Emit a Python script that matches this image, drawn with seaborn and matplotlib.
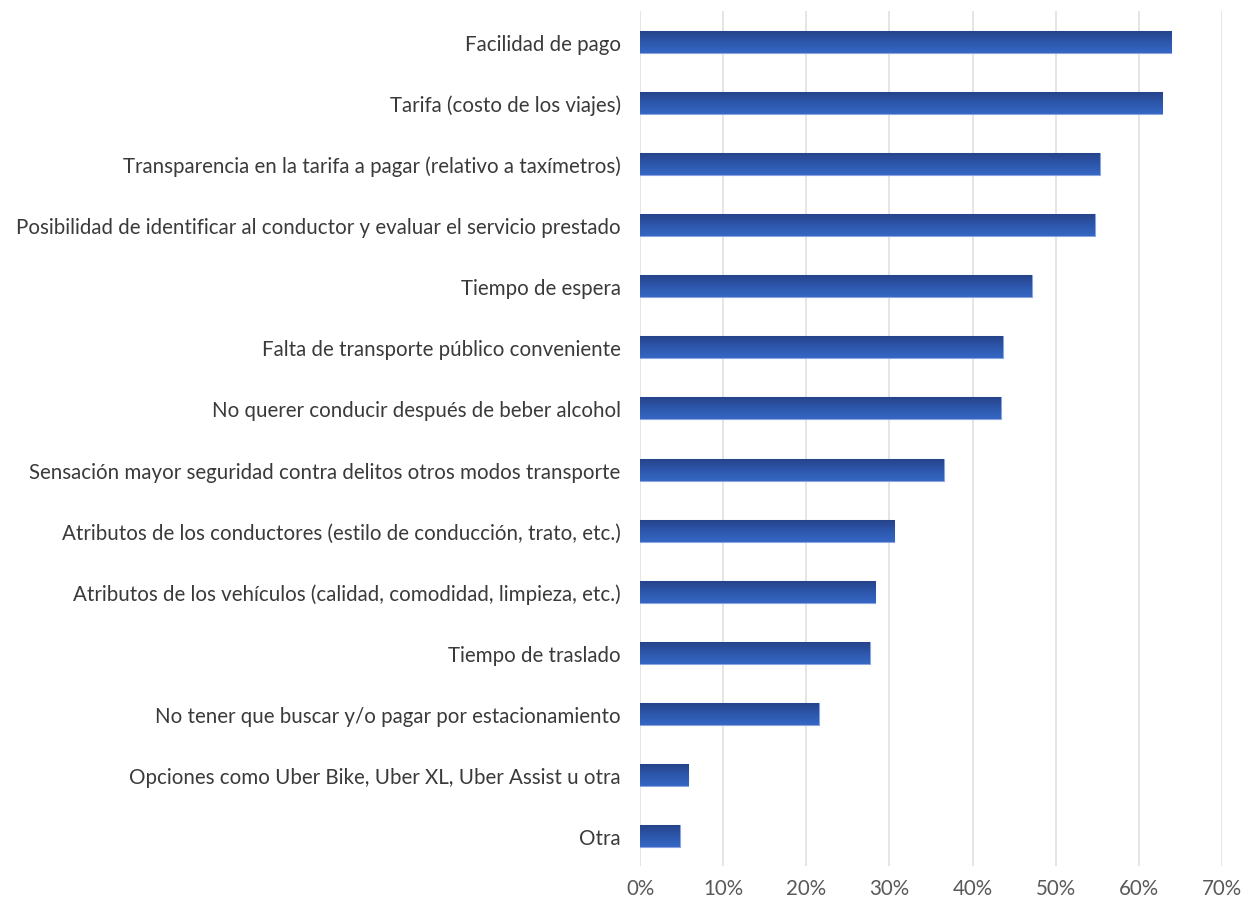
import numpy as np
import pandas as pd
import matplotlib
matplotlib.use("Agg")
import matplotlib.pyplot as plt
import seaborn as sns
from matplotlib.colors import LinearSegmentedColormap

categories = [
    "Facilidad de pago",
    "Tarifa (costo de los viajes)",
    "Transparencia en la tarifa a pagar (relativo a taxímetros)",
    "Posibilidad de identificar al conductor y evaluar el servicio prestado",
    "Tiempo de espera",
    "Falta de transporte público conveniente",
    "No querer conducir después de beber alcohol",
    "Sensación mayor seguridad contra delitos otros modos transporte",
    "Atributos de los conductores (estilo de conducción, trato, etc.)",
    "Atributos de los vehículos (calidad, comodidad, limpieza, etc.)",
    "Tiempo de traslado",
    "No tener que buscar y/o pagar por estacionamiento",
    "Opciones como Uber Bike, Uber XL, Uber Assist u otra",
    "Otra",
]
values = [63.9, 62.8, 55.3, 54.7, 47.1, 43.6, 43.4, 36.5, 30.6, 28.3, 27.6, 21.5, 5.8, 4.8]
tick_values = [0, 10, 20, 30, 40, 50, 60, 70]
tick_labels = ["0%", "10%", "20%", "30%", "40%", "50%", "60%", "70%"]

df = pd.DataFrame({"cat": categories, "val": values})

sns.set_theme(style="white")
plt.rcParams["font.family"] = ["Lato", "DejaVu Sans"]

fig = plt.figure(figsize=(12.53, 9.12), dpi=100)
ax = fig.add_axes([0.5108, 0.0488, 0.4645, 0.9375])

sns.barplot(data=df, x="val", y="cat", orient="h", color="#2e5aa8",
            width=0.36, ax=ax, edgecolor="#8aa5e0", linewidth=0.8, zorder=3)

cmap = LinearSegmentedColormap.from_list("g", ["#26438a", "#2d57ab", "#3567c4"])
grad = np.linspace(0, 1, 64).reshape(-1, 1)
for p in ax.patches:
    x0, y0 = p.get_x(), p.get_y()
    w, h = p.get_width(), p.get_height()
    im = ax.imshow(grad, cmap=cmap, aspect="auto",
                   extent=[x0, x0 + w, y0 + h, y0], origin="upper",
                   zorder=3.5, interpolation="bicubic")
    im.set_clip_path(p)

ax.set_xlim(0, 70)
ax.set_ylim(13.5, -0.5)
ax.set_xticks(tick_values)
ax.set_xticklabels(tick_labels, fontsize=14.8, color="#595959")
ax.tick_params(axis="y", labelsize=14.8, labelcolor="#3a3a3a", length=0, pad=14)
ax.tick_params(axis="x", length=0, pad=8)
ax.set_xlabel("")
ax.set_ylabel("")
ax.xaxis.grid(True, color="#e0e0e0", linewidth=1.2, zorder=0)
ax.yaxis.grid(False)
for s in ax.spines.values():
    s.set_visible(False)

fig.savefig("out.png", dpi=100, facecolor="white")
